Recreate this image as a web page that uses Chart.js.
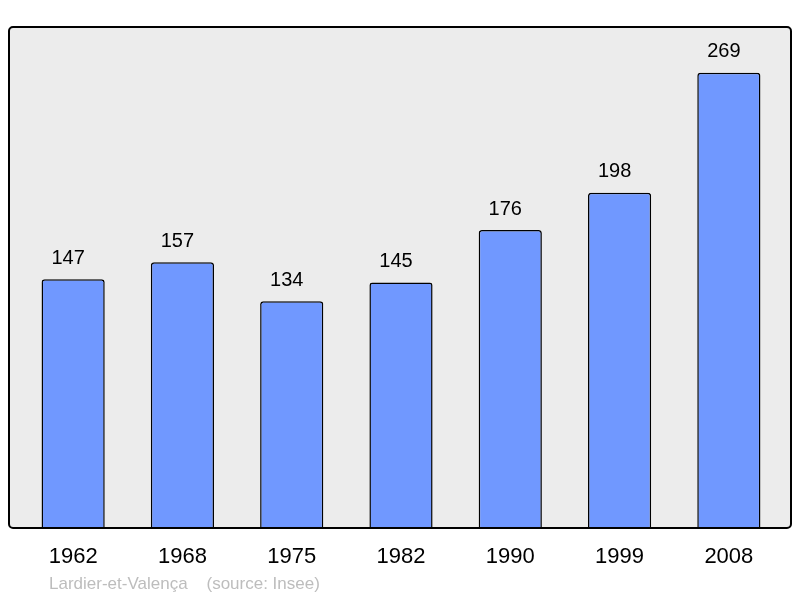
<!DOCTYPE html>
<html><head><meta charset="utf-8">
<script src="https://cdn.jsdelivr.net/npm/chart.js@4/dist/chart.umd.min.js"></script>
<style>html,body{margin:0;padding:0;background:#fff}#w{width:800px;height:598px}</style>
</head><body><div id="w"><canvas id="c"></canvas></div>
<script>
const years = ['1962','1968','1975','1982','1990','1999','2008'];
const population = [147,157,134,145,176,198,269];
const sourceText = 'Lardier-et-Valença    (source: Insee)';

const boxPlugin = {
  id:'box',
  beforeDraw(chart){
    const {ctx, chartArea:a} = chart;
    const l = a.left-9.5, r = a.right+7.5, t = a.top, b = a.bottom;
    ctx.save();
    ctx.beginPath();
    ctx.roundRect(l, t, r-l, b-t, 4);
    ctx.fillStyle = '#ececec';
    ctx.fill();
    ctx.restore();
  },
  afterDatasetsDraw(chart){
    const {ctx, chartArea:a} = chart;
    const l = a.left-9.5, r = a.right+7.5, t = a.top, b = a.bottom;
    ctx.save();
    ctx.beginPath();
    ctx.roundRect(l, t, r-l, b-t, 4);
    ctx.lineWidth = 2;
    ctx.strokeStyle = '#000';
    ctx.stroke();
    ctx.font = '20px "Liberation Sans", Arial, sans-serif';
    ctx.fillStyle = '#000';
    ctx.textAlign = 'center';
    ctx.textBaseline = 'middle';
    chart.getDatasetMeta(0).data.forEach((bar,i)=>{
      ctx.fillText(String(population[i]), bar.x - 5, bar.y - 21);
    });
    ctx.font = '17px "Liberation Sans", Arial, sans-serif';
    ctx.fillStyle = '#bdbdbd';
    ctx.textAlign = 'left';
    ctx.fillText(sourceText, 49, 584);
    ctx.restore();
  }
};

new Chart(document.getElementById('c'), {
  type:'bar',
  data:{labels:years, datasets:[{
    data:population,
    backgroundColor:'#7098ff',
    borderColor:'#000',
    borderWidth:1.5,
    borderRadius:3,
    borderSkipped:'bottom',
    categoryPercentage:1,
    barPercentage:0.578
  }]},
  options:{
    responsive:true, maintainAspectRatio:false, animation:false,
    layout:{padding:{left:18.5, right:16.5, top:27, bottom:0}},
    plugins:{legend:{display:false}, tooltip:{enabled:false}},
    scales:{
      x:{
        grid:{display:false, drawTicks:false}, border:{display:false},
        ticks:{color:'#000', font:{family:'"Liberation Sans", Arial, sans-serif', size:22}, padding:16},
        afterFit(s){ s.height = 70; }
      },
      y:{display:false, min:0, max:296}
    }
  },
  plugins:[boxPlugin]
});
</script></body></html>
